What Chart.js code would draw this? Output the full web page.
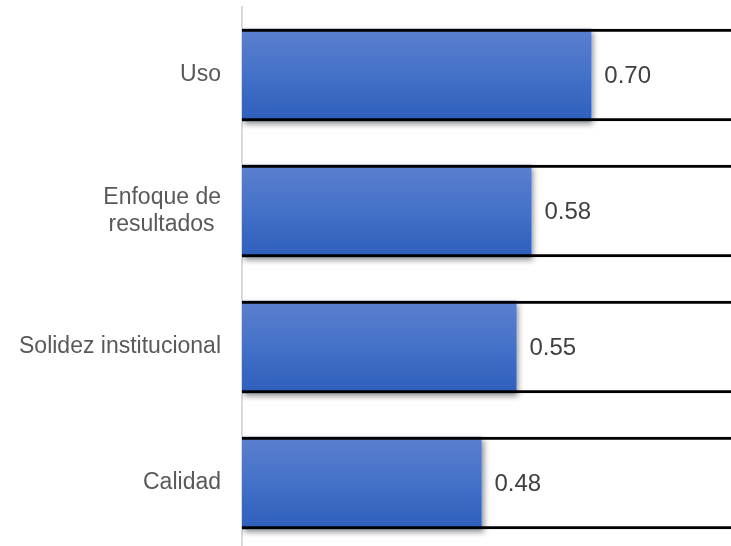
<!DOCTYPE html>
<html>
<head>
  <meta charset="utf-8">
  <title>Índice</title>
  <script src="https://cdn.jsdelivr.net/npm/chart.js"></script>
  <style>
    html, body { margin: 0; padding: 0; background: #fff; overflow: hidden; }
    .chart-container { width: 731px; height: 551px; }
  </style>
</head>
<body>
  <div class="chart-container"><canvas id="chart"></canvas></div>
  <script>
    // Chart data
    const categories = ['Uso', ['Enfoque de', 'resultados '], 'Solidez institucional', 'Calidad'];
    const values = [0.70, 0.58, 0.55, 0.48];
    const frameValues = [1, 1, 1, 1];
    const axisMax = 0.98;
    const barPct = 0.68;

    // Blue gradient per bar, top to bottom (computed from the y scale)
    function barGradient(ctx) {
      const chart = ctx.chart;
      const y = chart.scales.y;
      if (!y || !chart.chartArea || !isFinite(y.height)) return '#4472c4';
      const center = y.getPixelForValue(ctx.dataIndex);
      const half = (y.height / categories.length) * barPct / 2;
      if (!isFinite(center) || !isFinite(half)) return '#4472c4';
      const g = chart.ctx.createLinearGradient(0, center - half, 0, center + half);
      g.addColorStop(0, '#5b80cf');
      g.addColorStop(0.5, '#4471c8');
      g.addColorStop(1, '#2e5fbb');
      return g;
    }

    // Shadow under the value bars
    const shadowPlugin = {
      id: 'barShadow',
      beforeDatasetDraw(chart, args) {
        if (args.index !== 1) return;
        const c = chart.ctx;
        c.save();
        c.shadowColor = 'rgba(0,0,0,0.45)';
        c.shadowBlur = 6;
        c.shadowOffsetX = 2;
        c.shadowOffsetY = 3;
      },
      afterDatasetDraw(chart, args) {
        if (args.index !== 1) return;
        chart.ctx.restore();
      }
    };

    // Value labels right of each bar
    const valueLabels = {
      id: 'valueLabels',
      afterDatasetsDraw(chart) {
        const c = chart.ctx;
        const meta = chart.getDatasetMeta(1);
        c.save();
        c.font = '24px "Liberation Sans", Arial, sans-serif';
        c.fillStyle = '#404040';
        c.textAlign = 'left';
        c.textBaseline = 'middle';
        meta.data.forEach((bar, i) => {
          c.fillText(values[i].toFixed(2), bar.x + 13, bar.y + 1);
        });
        c.restore();
      }
    };

    new Chart(document.getElementById('chart'), {
      type: 'bar',
      data: {
        labels: categories,
        datasets: [
          {
            label: 'marco',
            data: frameValues,
            backgroundColor: 'rgba(0,0,0,0)',
            borderColor: '#000000',
            borderWidth: { top: 3, bottom: 3, left: 0, right: 0 },
            borderSkipped: false,
            grouped: false,
            barPercentage: barPct,
            categoryPercentage: 1
          },
          {
            label: 'valor',
            data: values,
            backgroundColor: barGradient,
            borderWidth: 0,
            grouped: false,
            barPercentage: barPct,
            categoryPercentage: 1
          }
        ]
      },
      options: {
        indexAxis: 'y',
        responsive: true,
        maintainAspectRatio: false,
        animation: false,
        layout: { padding: { top: 7, right: 0, bottom: 0, left: 0 } },
        plugins: {
          legend: { display: false },
          tooltip: { enabled: false }
        },
        scales: {
          x: {
            display: false,
            min: 0,
            max: axisMax
          },
          y: {
            afterFit(scale) {
              scale.width = 242;
              scale.paddingTop = 0;
              scale.paddingBottom = 0;
            },
            grid: { display: false },
            border: { display: true, color: '#d9d9d9', width: 2 },
            ticks: {
              color: '#595959',
              padding: 13,
              font: { family: '"Liberation Sans", Arial, sans-serif', size: 23 }
            }
          }
        }
      },
      plugins: [shadowPlugin, valueLabels]
    });
  </script>
</body>
</html>
